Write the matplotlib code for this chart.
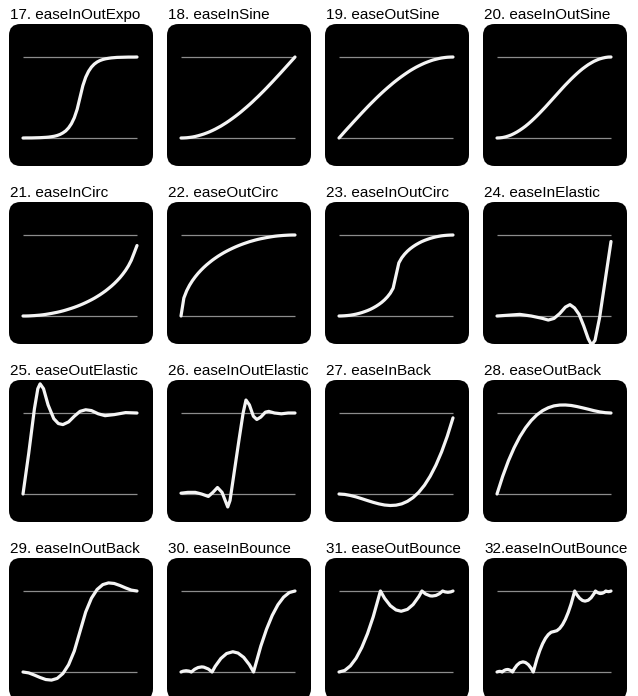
import numpy as np
import matplotlib
matplotlib.use("Agg")
import matplotlib.pyplot as plt
from matplotlib.patches import FancyBboxPatch

plt.rcParams['font.family'] = ['Liberation Sans', 'DejaVu Sans']

# sample positions (time 0..1)
T41 = np.linspace(0, 1, 41)
T21 = np.linspace(0, 1, 21)

titles = ["17. easeInOutExpo", "18. easeInSine", "19. easeOutSine", "20. easeInOutSine",
          "21. easeInCirc", "22. easeOutCirc", "23. easeInOutCirc", "24. easeInElastic",
          "25. easeOutElastic", "26. easeInOutElastic", "27. easeInBack", "28. easeOutBack",
          "29. easeInOutBack", "30. easeInBounce", "31. easeOutBounce", "32.easeInOutBounce"]

in_out_expo = [0, .001, .001, .001, .002, .003, .004, .006, .008, .011, .016, .022, .031, .044,
               .063, .088, .125, .177, .25, .354, .5, .646, .75, .823, .875, .912, .938, .956,
               .969, .978, .984, .989, .992, .995, .996, .997, .998, .999, .999, .999, 1]
in_sine = [0, .001, .003, .007, .012, .019, .028, .038, .049, .062, .076, .092, .109, .128,
           .147, .169, .191, .215, .240, .266, .293, .321, .351, .381, .412, .444, .478, .511,
           .546, .581, .617, .654, .691, .729, .767, .805, .844, .883, .922, .961, 1]
out_sine = [0, .039, .079, .118, .156, .195, .233, .271, .309, .346, .383, .419, .454, .489,
            .523, .556, .588, .619, .649, .679, .707, .734, .760, .785, .809, .832, .853, .873,
            .891, .908, .924, .938, .951, .963, .972, .981, .988, .993, .997, .999, 1]
in_out_sine = [0, .002, .006, .014, .025, .038, .055, .074, .096, .120, .146, .175, .206, .239,
               .273, .309, .346, .383, .422, .461, .5, .539, .578, .617, .655, .691, .727, .761,
               .794, .825, .854, .880, .905, .926, .946, .962, .976, .986, .994, .999, 1]
in_circ = [0, 0, .001, .003, .005, .008, .011, .015, .020, .026, .032, .039, .046, .054, .063,
           .073, .084, .095, .107, .120, .134, .149, .165, .182, .2, .219, .240, .262, .286, .311,
           .339, .368, .4, .435, .473, .516, .564, .620, .688, .778, .87]
out_circ = [0, .222, .312, .380, .436, .484, .527, .565, .6, .632, .661, .689, .714, .738, .760,
            .781, .8, .818, .835, .851, .866, .880, .893, .905, .917, .927, .937, .946, .954,
            .961, .968, .974, .980, .985, .989, .992, .995, .997, .999, 1, 1]
in_out_circ = [0, .001, .003, .006, .010, .016, .023, .032, .042, .054, .067, .082, .1, .12,
               .143, .169, .2, .237, .282, .344, .5, .656, .718, .763, .8, .831, .857, .88, .9,
               .918, .933, .946, .958, .968, .977, .984, .990, .994, .997, .999, 1]

in_elastic_t = [0, .1, .2, .3, .4, .45, .5, .55, .6, .64, .68, .72, .76, .8, .83, .86, .9, .95, 1]
in_elastic = [0, .01, .02, 0, -.03, -.05, -.03, .03, .11, .14, .10, .02, -.12, -.28, -.36, -.3,
              -.02, .45, .92]
out_elastic_t = [0, .05, .1, .13, .15, .18, .22, .27, .31, .35, .4, .45, .5, .55, .6, .66, .72,
                 .8, .9, 1]
out_elastic = [0, .5, 1.05, 1.3, 1.36, 1.3, 1.1, .93, .87, .857, .89, .96, 1.02, 1.04, 1.03,
               .99, .967, .98, 1.005, 1]
io_elastic_t = [0, .06, .125, .18, .24, .28, .32, .36, .41, .43, .47, .51, .545, .57, .6, .635,
                .665, .7, .74, .77, .82, .88, .94, 1]
io_elastic = [.01, .02, .02, 0, -.03, .02, .08, .02, -.16, -.08, .3, .68, 1.0, 1.16, 1.1, .96,
              .92, .95, 1.01, 1.02, 1.0, .99, 1.0, 1.0]

in_back = [0, -.005, -.018, -.036, -.058, -.081, -.103, -.122, -.136, -.142, -.138, -.122,
           -.091, -.044, .022, .109, .22, .356, .52, .714, .94]
out_back = [0, .219, .409, .570, .706, .817, .907, .977, 1.029, 1.065, 1.088, 1.098, 1.099,
            1.093, 1.080, 1.064, 1.047, 1.029, 1.014, 1.004, 1]
in_out_back = [0, -.011, -.038, -.068, -.093, -.1, -.079, -.019, .090, .259, .5, .741, .910,
               1.019, 1.079, 1.1, 1.093, 1.068, 1.038, 1.011, 1]

in_bounce_t = [0, .02, .0455, .07, .0909, .12, .15, .1818, .2, .24, .2727, .3, .35, .4, .4545,
               .5, .55, .6, .6364, .7, .75, .8, .85, .9, .95, 1]
in_bounce = [0, .011, .016, .011, 0, .034, .055, .063, .06, .037, 0, .07, .167, .228, .25,
             .234, .181, .09, 0, .319, .527, .698, .83, .924, .981, 1]
out_bounce_t = [0, .05, .1, .15, .2, .25, .3, .3636, .4, .45, .5, .5455, .6, .65, .7, .7273,
                .76, .8, .8182, .85, .88, .9091, .93, .9545, .98, 1]
out_bounce = [0, .019, .076, .17, .303, .473, .681, 1, .91, .819, .766, .75, .773, .833, .931,
              1, .963, .94, .938, .945, .966, 1, .989, .984, .989, 1]
io_bounce_t = [0, .01, .0228, .035, .0455, .06, .075, .0909, .1, .12, .1364, .15, .175, .2,
               .2273, .25, .275, .3, .3182, .35, .375, .4, .425, .45, .475, .5, .525, .55, .575,
               .6, .625, .65, .6818, .7, .725, .75, .7727, .8, .825, .85, .8636, .88, .9, .9091,
               .925, .94, .9545, .965, .9773, .99, 1]
io_bounce = [0, .005, .008, .006, 0, .017, .027, .031, .03, .019, 0, .035, .084, .114, .125,
             .117, .091, .045, 0, .16, .264, .349, .415, .462, .491, .5, .51, .538, .585, .651,
             .736, .84, 1, .955, .91, .883, .875, .886, .916, .965, 1, .982, .97, .969, .973,
             .983, 1, .995, .992, .995, 1]

curves = [(T41, in_out_expo), (T41, in_sine), (T41, out_sine), (T41, in_out_sine),
          (T41, in_circ), (T41, out_circ), (T41, in_out_circ), (in_elastic_t, in_elastic),
          (out_elastic_t, out_elastic), (io_elastic_t, io_elastic), (T21, in_back),
          (T21, out_back), (T21, in_out_back), (in_bounce_t, in_bounce),
          (out_bounce_t, out_bounce), (io_bounce_t, io_bounce)]

W, H = 638, 696
col_left = [9, 167, 325, 483]
row_top = [24, 202, 380, 558]
pw, ph = 144, 142

fig = plt.figure(figsize=(W / 100, H / 100), dpi=100)

for i, (title, (tx, ty)) in enumerate(zip(titles, curves)):
    r, c = divmod(i, 4)
    x0, y0 = col_left[c], row_top[r]
    ax = fig.add_axes([x0 / W, 1 - (y0 + ph) / H, pw / W, ph / H])
    ax.set_axis_off()
    ax.set_xlim(-14 / 114, 1 + 16 / 114)
    ax.set_ylim(-28 / 81, 1 + 33 / 81)
    box = FancyBboxPatch((0, 0), 1, 1, boxstyle="round,pad=0,rounding_size=0.08",
                         transform=ax.transAxes, fc='black', ec='none', clip_on=False, zorder=0)
    ax.add_patch(box)
    ax.hlines([0, 1], 0, 1, colors='#8c8c8c', lw=0.9, zorder=2)
    line, = ax.plot(tx, ty, color='#f4f4f4', lw=2.3, zorder=3,
                    solid_capstyle='round', solid_joinstyle='round')
    line.set_clip_path(box)
    fig.text((x0 + 1) / W, 1 - (y0 - 5) / H, title, fontsize=11, va='baseline')

fig.savefig('out.png', dpi=100)
